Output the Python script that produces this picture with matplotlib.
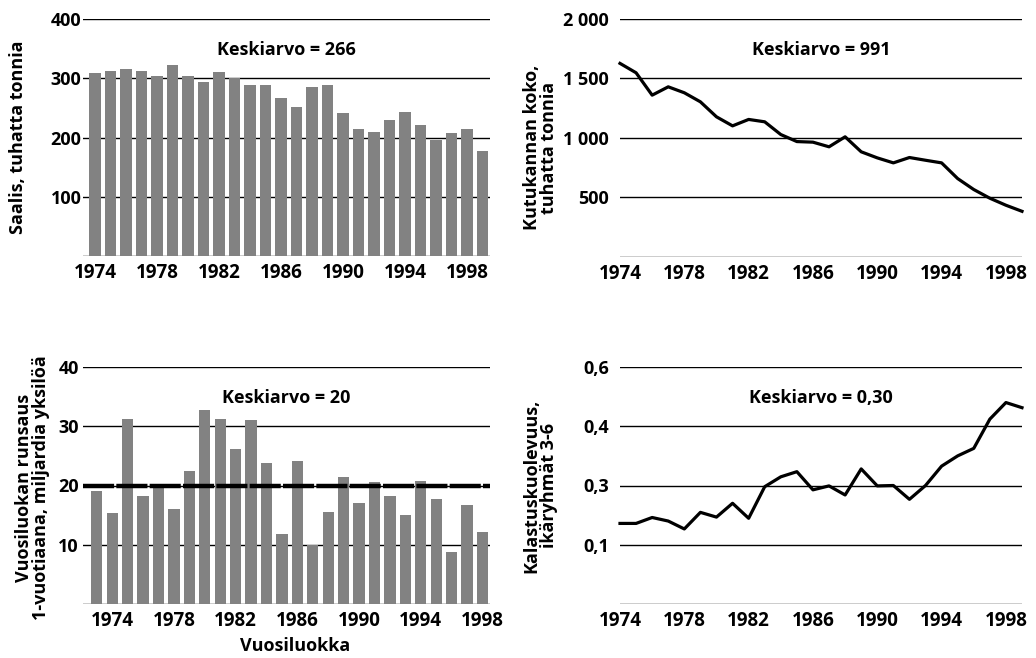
import numpy as np
import matplotlib.pyplot as plt

plt.rcParams['font.family'] = ['Open Sans', 'DejaVu Sans']
plt.rcParams['font.weight'] = 'bold'
plt.rcParams['axes.labelweight'] = 'bold'

#%% DATA
years = np.arange(1974, 2000)
year_classes = np.arange(1973, 1999)

catch = [309, 312, 316, 313, 304, 322, 303, 293, 310, 300, 289, 289, 267,
         251, 285, 289, 242, 214, 210, 230, 243, 221, 196, 208, 214, 177]

spawning_stock = [1627, 1548, 1360, 1430, 1380, 1304, 1178, 1102, 1156, 1136,
                  1029, 970, 965, 926, 1010, 884, 833, 791, 836, 813, 791,
                  659, 567, 494, 435, 384]

recruits = [19.1, 15.3, 31.3, 18.3, 20.0, 16.1, 22.5, 32.8, 31.2, 26.1, 31.0,
            23.8, 11.8, 24.2, 10.0, 15.5, 21.5, 17.0, 20.6, 18.2, 15.1, 20.8,
            17.7, 8.7, 16.7, 12.2]

mortality = [0.204, 0.204, 0.219, 0.210, 0.190, 0.232, 0.220, 0.255, 0.217,
             0.297, 0.322, 0.335, 0.289, 0.299, 0.276, 0.342, 0.299, 0.300,
             0.265, 0.300, 0.349, 0.375, 0.394, 0.468, 0.510, 0.497]

mean_catch = '266'
mean_stock = '991'
mean_recruits = 20
mean_mortality = '0,30'

xticks = [1974, 1978, 1982, 1986, 1990, 1994, 1998]

#%% FIGURE
W, H = 1036, 658
fig = plt.figure(figsize=(W / 100, H / 100), dpi=100)

def axes_px(x0, y0, x1, y1):
    return fig.add_axes([x0 / W, 1 - y1 / H, (x1 - x0) / W, (y1 - y0) / H])

bar_col = '#828282'
fs = 13

def style(ax, yticks, ylabels, ypad):
    for s in ax.spines.values():
        s.set_visible(False)
    ax.set_yticks(yticks)
    ax.set_yticklabels(ylabels)
    ax.set_xticks(xticks)
    ax.tick_params(length=0, labelsize=fs)
    ax.tick_params(axis='x', pad=5, labelsize=13.5)
    ax.tick_params(axis='y', pad=ypad)
    for y in list(yticks) + [0]:
        ax.axhline(y, color='black', lw=1.0, zorder=1)
    ax.set_ylim(0, yticks[-1])

def mean_text(ax, txt):
    ax.text(0.5, 0.87, 'Keskiarvo = ' + txt, transform=ax.transAxes,
            ha='center', va='center', fontsize=fs)

# catch
ax1 = axes_px(83, 19, 490, 256)
ax1.bar(years, catch, width=0.73, color=bar_col, zorder=2)
ax1.set_xlim(1973.23, 1999.48)
style(ax1, [100, 200, 300, 400], ['100', '200', '300', '400'], 1)
mean_text(ax1, mean_catch)
ax1.set_ylabel('Saalis, tuhatta tonnia', fontsize=fs)
ax1.yaxis.set_label_coords(-56 / 407, 0.5)

# spawning stock
ax2 = axes_px(620, 19, 1022, 257)
ax2.plot(years, spawning_stock, color='black', lw=2.3, zorder=3,
         solid_joinstyle='round', clip_on=False)
ax2.set_xlim(1974, 1999)
style(ax2, [500, 1000, 1500, 2000], ['500', '1 000', '1 500', '2 000'], 8)
mean_text(ax2, mean_stock)
ax2.set_ylabel('Kutukannan koko,\ntuhatta tonnia', fontsize=fs, linespacing=0.95)
ax2.yaxis.set_label_coords(-62 / 402, 0.46)

# recruits
ax3 = axes_px(83, 367, 490, 604)
ax3.bar(year_classes, recruits, width=0.73, color=bar_col, zorder=2)
ax3.set_xlim(1972.11, 1998.49)
style(ax3, [10, 20, 30, 40], ['10', '20', '30', '40'], 3)
ax3.axhline(mean_recruits, color='black', lw=3.2, dashes=(7, 0.5), zorder=3)
mean_text(ax3, str(mean_recruits))
ax3.set_ylabel('Vuosiluokan runsaus\n1-vuotiaana, miljardia yksilöä',
               fontsize=fs, linespacing=0.95)
ax3.yaxis.set_label_coords(-33 / 407, 0.49)
ax3.set_xlabel('Vuosiluokka', fontsize=fs)
ax3.xaxis.set_label_coords(0.52, -0.14)

# fishing mortality
ax4 = axes_px(620, 367, 1022, 604)
ax4.plot(years, mortality, color='black', lw=2.3, zorder=3,
         solid_joinstyle='round', clip_on=False)
ax4.set_xlim(1974, 1999)
style(ax4, [0.15, 0.3, 0.45, 0.6], ['0,1', '0,3', '0,4', '0,6'], 8)
mean_text(ax4, mean_mortality)
ax4.set_ylabel('Kalastuskuolevuus,\nikäryhmät 3-6', fontsize=fs, linespacing=0.95)
ax4.yaxis.set_label_coords(-62 / 402, 0.5)

fig.savefig('out.png', dpi=100)
